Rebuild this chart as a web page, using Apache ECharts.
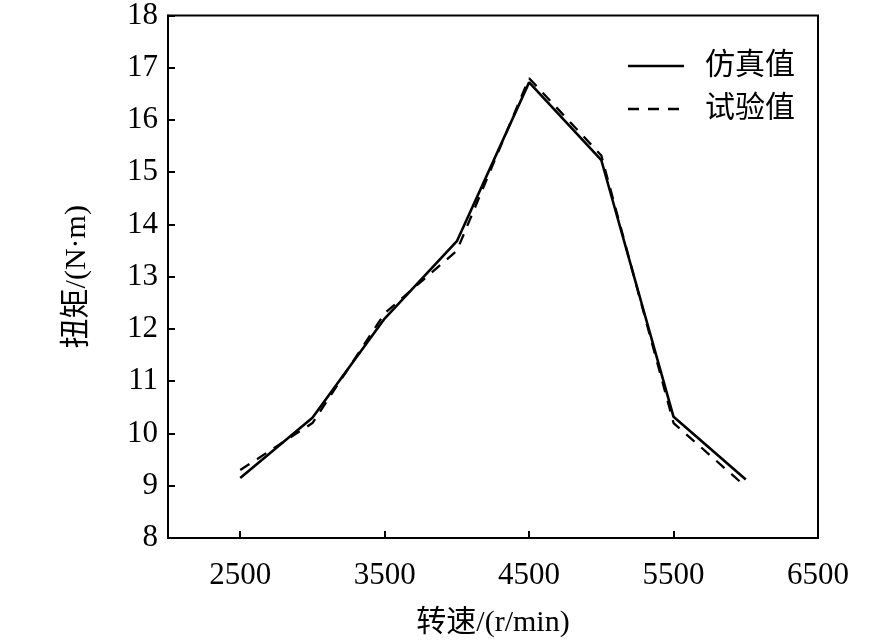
<!DOCTYPE html>
<html>
<head>
<meta charset="utf-8">
<script src="https://cdn.jsdelivr.net/npm/echarts@6/dist/echarts.min.js"></script>
<style>
  html, body { margin: 0; padding: 0; background: #fff; }
  #chart { width: 886px; height: 644px; }
</style>
</head>
<body>
<div id="chart"></div>
<script>
const speeds = [2500, 3000, 3500, 4000, 4500, 5000, 5500, 6000];
const simTorque = [9.15, 10.3, 12.2, 13.68, 16.72, 15.23, 10.32, 9.12];
const testTorque = [9.3, 10.2, 12.3, 13.5, 16.8, 15.32, 10.2, 8.98];
const xTicks = [2500, 3500, 4500, 5500, 6500];

const font = "'Liberation Serif', 'Times New Roman', 'Noto Sans CJK SC', serif";

function pairs(ys) {
  return speeds.map((s, i) => [s, ys[i]]);
}

const chart = echarts.init(document.getElementById("chart"));

chart.setOption({
  animation: false,
  backgroundColor: "#fff",
  grid: {
    left: 168,
    right: 68,
    top: 15,
    bottom: 106,
    show: true,
    borderColor: "#000",
    borderWidth: 2,
  },
  legend: {
    orient: "vertical",
    right: 86,
    top: 46,
    itemWidth: 56,
    itemHeight: 12,
    itemGap: 13,
    itemStyle: { opacity: 0 },
    lineStyle: { width: 2.5 },
    textStyle: { fontFamily: font, fontSize: 30, color: "#000", padding: [0, 0, 0, 16] },
    data: ["仿真值", "试验值"],
  },
  xAxis: {
    type: "value",
    min: 2000,
    max: 6500,
    name: "转速/(r/min)",
    nameLocation: "middle",
    nameGap: 70,
    nameTextStyle: { fontFamily: font, fontSize: 30, color: "#000" },
    axisLine: { lineStyle: { color: "#000", width: 2 } },
    axisTick: {
      inside: true,
      length: 7,
      lineStyle: { color: "#000", width: 2 },
      customValues: xTicks,
    },
    axisLabel: {
      margin: 22,
      fontFamily: font,
      fontSize: 31,
      color: "#000",
      customValues: xTicks,
      formatter: (v) => String(v),
    },
    splitLine: { show: false },
  },
  yAxis: {
    type: "value",
    min: 8,
    max: 18,
    interval: 1,
    name: "扭矩/(N·m)",
    nameLocation: "middle",
    nameGap: 76,
    nameTextStyle: { fontFamily: font, fontSize: 30, color: "#000" },
    axisLine: { lineStyle: { color: "#000", width: 2 } },
    axisTick: { inside: true, length: 7, lineStyle: { color: "#000", width: 2 } },
    axisLabel: { margin: 10, fontFamily: font, fontSize: 31, color: "#000" },
    splitLine: { show: false },
  },
  series: [
    {
      name: "仿真值",
      type: "line",
      data: pairs(simTorque),
      symbol: "none",
      lineStyle: { color: "#000", width: 2.6, type: "solid" },
      itemStyle: { color: "#000" },
    },
    {
      name: "试验值",
      type: "line",
      data: pairs(testTorque),
      symbol: "none",
      lineStyle: { color: "#000", width: 2.3, type: [11, 9] },
      itemStyle: { color: "#000" },
    },
  ],
});
</script>
</body>
</html>
